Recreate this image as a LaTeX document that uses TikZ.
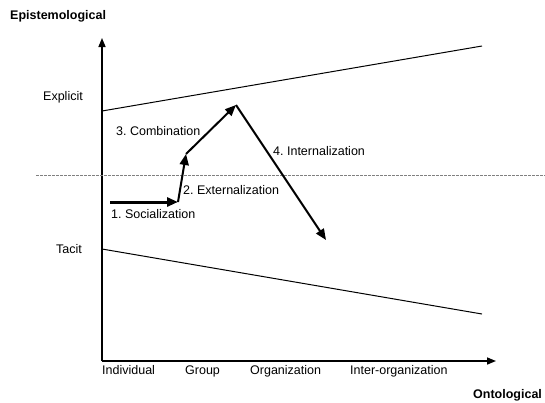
\documentclass[tikz,border=0pt]{standalone}
\usepackage{fontspec}
\setmainfont{Liberation Sans}
\usetikzlibrary{arrows.meta}
\frenchspacing
\begin{document}
\begin{tikzpicture}[x=1bp,y=-1bp,
  lbl/.style={anchor=base west,inner sep=0pt,font=\fontsize{12.5bp}{15bp}\selectfont},
  blbl/.style={lbl,font=\fontsize{12.5bp}{15bp}\selectfont\bfseries},
  axis/.style={line width=1.5bp,-{Triangle[length=9bp,width=7bp]}},
  bound/.style={line width=1bp},
  flow/.style={line width=2bp,-{Triangle[length=11bp,width=9bp]}},
  guide/.style={gray,line width=0.5bp,dash pattern=on 3bp off 1bp}]
\useasboundingbox (0,0) rectangle (545,402);
% axes
\coordinate (o) at (102,361);
\coordinate (ytop) at (102,38);
\coordinate (xend) at (496,361);
\draw[axis] (o) -- (ytop);
\draw[axis] (o) -- (xend);
% boundary lines
\coordinate (u0) at (102,111);
\coordinate (u1) at (482,46);
\coordinate (l0) at (102,249);
\coordinate (l1) at (482,314);
\draw[bound] (u0) -- (u1);
\draw[bound] (l0) -- (l1);
% dashed guide
\coordinate (g0) at (36,175);
\coordinate (g1) at (545,175);
\draw[guide] (g0) -- (g1);
% spiral arrows
\coordinate (s0) at (110,202);
\coordinate (s1) at (178,202);
\coordinate (e1) at (186,154);
\coordinate (c1) at (236,105);
\coordinate (i1) at (326,240);
\draw[flow,line width=3bp] (s0) -- (s1);
\draw[flow] (s1) -- (e1);
\draw[flow] (e1) -- (c1);
\draw[flow] (c1) -- (i1);
% labels
\node[blbl] (epi) at (10,19) {Epistemological};
\node[blbl] (onto) at (473,398) {Ontological};
\node[lbl] (expl) at (43,100) {Explicit};
\node[lbl] (tac) at (56,253) {Tacit};
\node[lbl] (comb) at (116,135) {3. Combination};
\node[lbl] (intl) at (273,155) {4. Internalization};
\node[lbl] (extl) at (183,194) {2. Externalization};
\node[lbl] (soc) at (111,218) {1. Socialization};
\node[lbl] (ind) at (102,374) {Individual};
\node[lbl] (grp) at (185,374) {Group};
\node[lbl] (org) at (250,374) {Organization};
\node[lbl] (iorg) at (350,374) {Inter-organization};
\end{tikzpicture}
\end{document}
